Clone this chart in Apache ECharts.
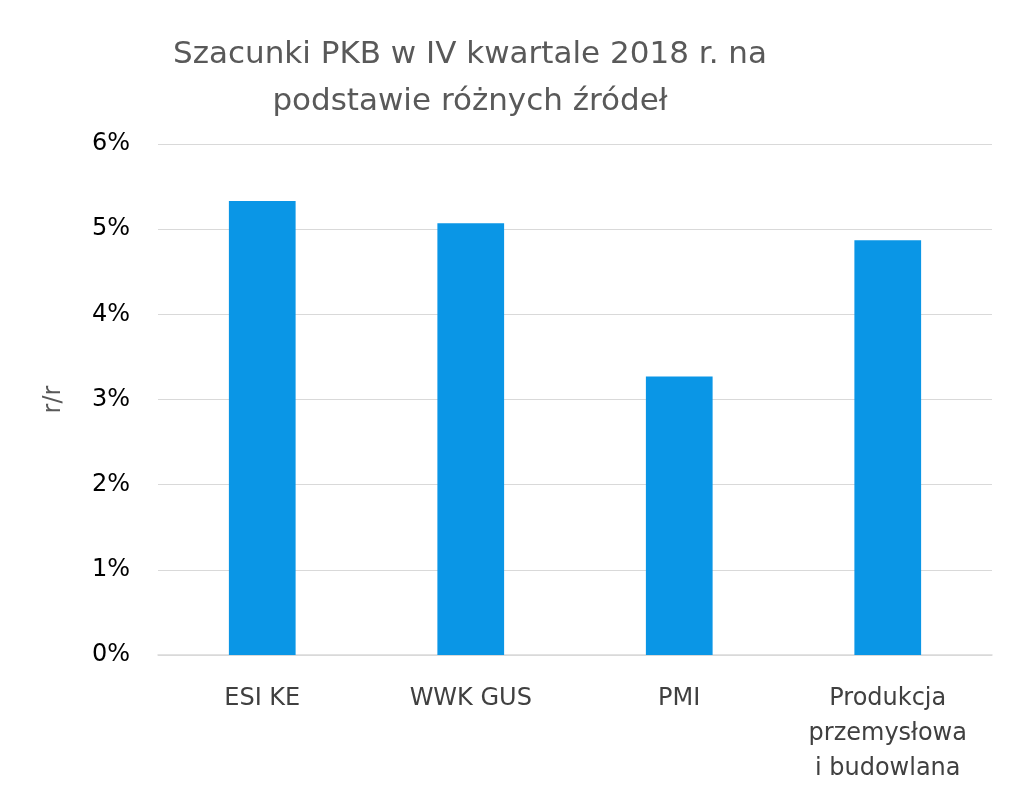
<!DOCTYPE html>
<html><head><meta charset="utf-8">
<script src="https://cdn.jsdelivr.net/npm/echarts@6/dist/echarts.min.js"></script>
<style>html,body{margin:0;background:#fff}#c{width:1024px;height:800px}</style>
</head><body><div id="c"></div>
<script>
const categories = ['ESI KE','WWK GUS','PMI','Produkcja\nprzemysłowa\ni budowlana'];
const values = [5.33, 5.07, 3.27, 4.87];
const titleText = 'Szacunki PKB w IV kwartale 2018 r. na\npodstawie różnych źródeł';
const chart = echarts.init(document.getElementById('c'));
chart.setOption({
  animation:false,
  title:{text:titleText,left:465,top:26,textAlign:'center',
    textStyle:{fontFamily:'DejaVu Sans',fontSize:31,fontWeight:'normal',color:'#595959',lineHeight:47}},
  grid:{left:158,right:32,top:144,bottom:145},
  xAxis:{type:'category',data:categories,
    axisLine:{lineStyle:{color:'#d9d9d9',width:1.5}},axisTick:{show:false},
    axisLabel:{fontFamily:'DejaVu Sans',fontSize:24,color:'#404040',lineHeight:35,margin:26}},
  yAxis:{type:'value',min:0,max:6,interval:1,name:'r/r',nameLocation:'middle',nameGap:92,
    nameTextStyle:{fontFamily:'DejaVu Sans',fontSize:24,color:'#595959'},
    axisLabel:{formatter:'{value}%',fontFamily:'DejaVu Sans',fontSize:24,color:'#000',margin:28},
    splitLine:{lineStyle:{color:'#d9d9d9',width:1}},axisLine:{show:false},axisTick:{show:false}},
  series:[{type:'bar',data:values,barWidth:'32%',itemStyle:{color:'#0a96e6'}}]
});
</script></body></html>
